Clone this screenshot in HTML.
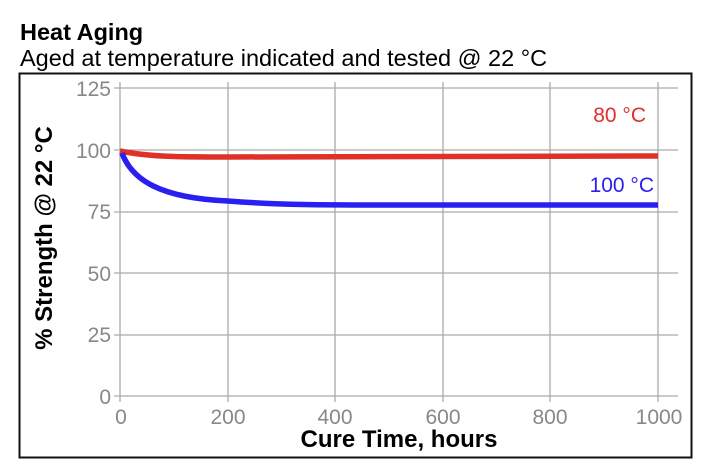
<!DOCTYPE html>
<html><head><style>
body{margin:0;width:711px;height:474px;background:#fff;overflow:hidden}
svg{position:absolute;left:0;top:0}
text{font-family:"Liberation Sans",sans-serif}
</style></head><body>
<svg width="711" height="474" viewBox="0 0 711 474">
<text x="20" y="40" font-size="23.5" font-weight="bold">Heat Aging</text>
<text x="20" y="66" font-size="23.5">Aged at temperature indicated and tested @ 22 °C</text>
<rect x="19.5" y="73.5" width="672" height="384" fill="none" stroke="#111" stroke-width="2"/>
<g stroke="#aaa" stroke-width="1.3">
<line x1="114" y1="88" x2="678" y2="88"/>
<line x1="114" y1="150" x2="678" y2="150"/>
<line x1="114" y1="212" x2="678" y2="212"/>
<line x1="114" y1="273" x2="678" y2="273"/>
<line x1="114" y1="335" x2="678" y2="335"/>
<line x1="114" y1="396" x2="678" y2="396"/>
<line x1="120" y1="82" x2="120" y2="402"/>
<line x1="228" y1="82" x2="228" y2="402"/>
<line x1="335" y1="82" x2="335" y2="402"/>
<line x1="443" y1="82" x2="443" y2="402"/>
<line x1="550" y1="82" x2="550" y2="402"/>
<line x1="658" y1="82" x2="658" y2="402"/>
</g>
<g font-size="21" fill="#888" text-anchor="end">
<text x="111" y="96">125</text><text x="111" y="158">100</text><text x="111" y="219">75</text>
<text x="111" y="281">50</text><text x="111" y="342">25</text><text x="111" y="404">0</text>
</g>
<g font-size="21" fill="#888" text-anchor="middle">
<text x="121" y="424">0</text><text x="228" y="424">200</text><text x="335" y="424">400</text>
<text x="443" y="424">600</text><text x="550" y="424">800</text><text x="659" y="424">1000</text>
</g>
<text x="399" y="447" font-size="24" font-weight="bold" text-anchor="middle">Cure Time, hours</text>
<text transform="translate(52,238) rotate(-90)" font-size="24" font-weight="bold" text-anchor="middle">% Strength @ 22 °C</text>
<path d="M120,151 C150,157 180,157 228,157 L658,156" fill="none" stroke="#e0302a" stroke-width="5.5"/>
<path d="M122,153 C132,180 160,198 228,201 C280,205 320,205 400,205 L658,205" fill="none" stroke="#2a1ef0" stroke-width="5.5"/>
<text x="646" y="122" font-size="21" fill="#e0302a" text-anchor="end">80 °C</text>
<text x="654" y="192" font-size="21" fill="#2a1ef0" text-anchor="end">100 °C</text>
</svg>
</body></html>
